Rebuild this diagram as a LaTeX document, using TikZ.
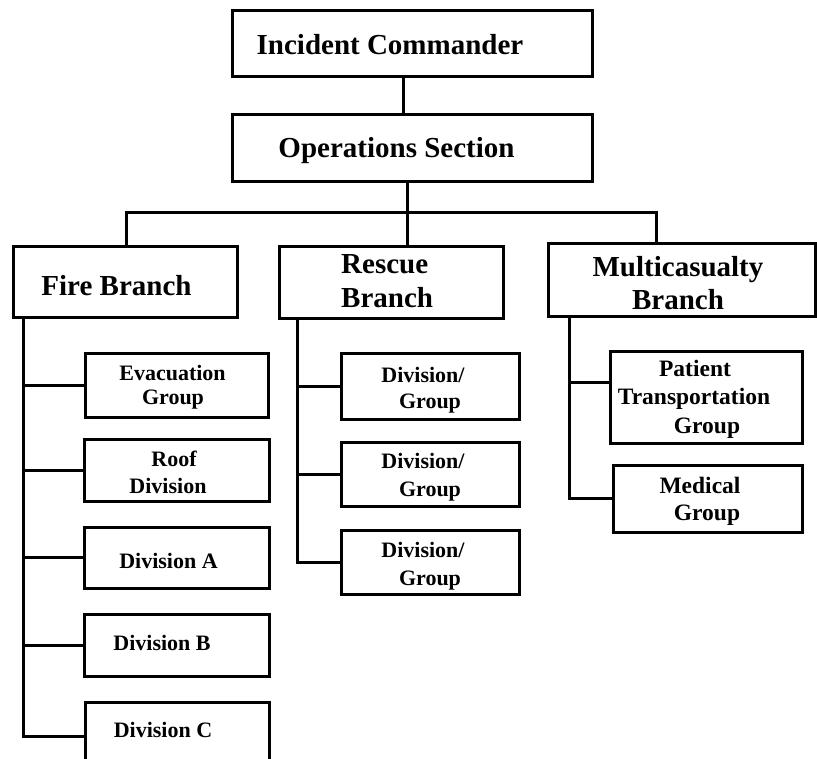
\documentclass[tikz,border=0pt]{standalone}
\usepackage{fontspec}
\setmainfont{Liberation Serif}
\begin{document}
\begin{tikzpicture}[x=1pt,y=-1pt,
  box/.style={draw, line width=3pt, inner sep=0pt, outer sep=0pt, rectangle},
  link/.style={line width=3pt},
  bigtxt/.style={anchor=base, inner sep=0pt, font=\bfseries\fontsize{29}{34}\selectfont},
  smalltxt/.style={anchor=base, inner sep=0pt, font=\bfseries\fontsize{22}{26}\selectfont},
  medtxt/.style={anchor=base, inner sep=0pt, font=\bfseries\fontsize{23.5}{28}\selectfont}]
\useasboundingbox (0,0) rectangle (817,759);
\clip (0,0) rectangle (817,759);

% box given by name, left, top, right, bottom
\newcommand\orgbox[5]{%
  \node[box, minimum width={(#4-#2)*1pt}, minimum height={(#5-#3)*1pt}]
    (#1) at ({(#2+#4)/2},{(#3+#5)/2}) {};}

% top of the chart
\orgbox{ic}{232}{11}{592}{77}
\orgbox{ops}{232}{115}{592}{182}
% branches
\orgbox{fire}{13}{247}{237}{318}
\orgbox{rescue}{279}{247}{503}{319}
\orgbox{multi}{548}{244}{815}{317}
% fire branch units
\orgbox{evac}{85}{354}{268}{417}
\orgbox{roof}{84}{439}{269}{501}
\orgbox{diva}{84}{527}{269}{588}
\orgbox{divb}{84}{614}{269}{676}
\orgbox{divc}{85}{702}{269}{770}
% rescue branch units
\orgbox{dgone}{341}{354}{519}{419}
\orgbox{dgtwo}{341}{442}{519}{506}
\orgbox{dgthree}{341}{530}{519}{594}
% multicasualty branch units
\orgbox{patient}{610}{352}{802}{443}
\orgbox{medical}{613}{465}{802}{532}

% labels
\node[bigtxt] (ic-t) at (390,55) {Incident Commander};
\node[bigtxt] (ops-t) at (396.5,158) {Operations Section};
\node[bigtxt] (fire-t) at (116.5,296) {Fire Branch};
\node[bigtxt, anchor=base west] (rescue-t1) at (341,274) {Rescue};
\node[bigtxt, anchor=base west] (rescue-t2) at (341,308) {Branch};
\node[bigtxt] (multi-t1) at (678,277) {Multicasualty};
\node[bigtxt] (multi-t2) at (678,310) {Branch};

\node[smalltxt] (evac-t1) at (172.5,381) {Evacuation};
\node[smalltxt] (evac-t2) at (173,404) {Group};
\node[smalltxt] (roof-t1) at (174,466) {Roof};
\node[smalltxt] (roof-t2) at (168,493) {Division};
\node[smalltxt] (diva-t) at (168.5,568) {Division A};
\node[smalltxt] (divb-t) at (162,650) {Division B};
\node[smalltxt] (divc-t) at (163,737) {Division C};

\node[smalltxt] (dgone-t1) at (423,382) {Division/};
\node[smalltxt] (dgone-t2) at (430,408) {Group};
\node[smalltxt] (dgtwo-t1) at (423,468) {Division/};
\node[smalltxt] (dgtwo-t2) at (430,496) {Group};
\node[smalltxt] (dgthree-t1) at (423,557) {Division/};
\node[smalltxt] (dgthree-t2) at (430,585) {Group};

\node[medtxt] (patient-t1) at (695,377) {Patient};
\node[medtxt] (patient-t2) at (694,405) {Transportation};
\node[medtxt] (patient-t3) at (707,433) {Group};
\node[medtxt] (medical-t1) at (700,493) {Medical};
\node[medtxt] (medical-t2) at (707,520) {Group};

% command links
\draw[link] ([xshift=-9pt]ic.south) -- ([xshift=-9pt]ops.north);
\draw[link] ([xshift=-5pt]ops.south) -- ([xshift=-5pt]ops.south |- rescue.north);
\coordinate (busL) at (126,213);
\coordinate (busR) at (656,213);
\draw[link] (busL |- fire.north) -- (busL) -- (busR) -- (busR |- multi.north);

% fire branch spine
\coordinate (fx) at (23,0);
\draw[link] (fx |- fire.south) -- (fx |- divc.west) -- (divc.west);
\draw[link] (fx |- evac.west) -- (evac.west);
\draw[link] (fx |- roof.west) -- (roof.west);
\draw[link] (fx |- diva.west) -- (diva.west);
\draw[link] (fx |- divb.west) -- (divb.west);

% rescue branch spine
\coordinate (rx) at (297,0);
\draw[link] (rx |- rescue.south) -- (rx |- dgthree.west) -- (dgthree.west);
\draw[link] (rx |- dgone.west) -- (dgone.west);
\draw[link] (rx |- dgtwo.west) -- (dgtwo.west);

% multicasualty branch spine
\coordinate (mx) at (569,0);
\coordinate (pjoin) at ([yshift=14.5pt]patient.west);
\draw[link] (mx |- multi.south) -- (mx |- medical.west) -- (medical.west);
\draw[link] (mx |- pjoin) -- (pjoin);
\end{tikzpicture}
\end{document}
